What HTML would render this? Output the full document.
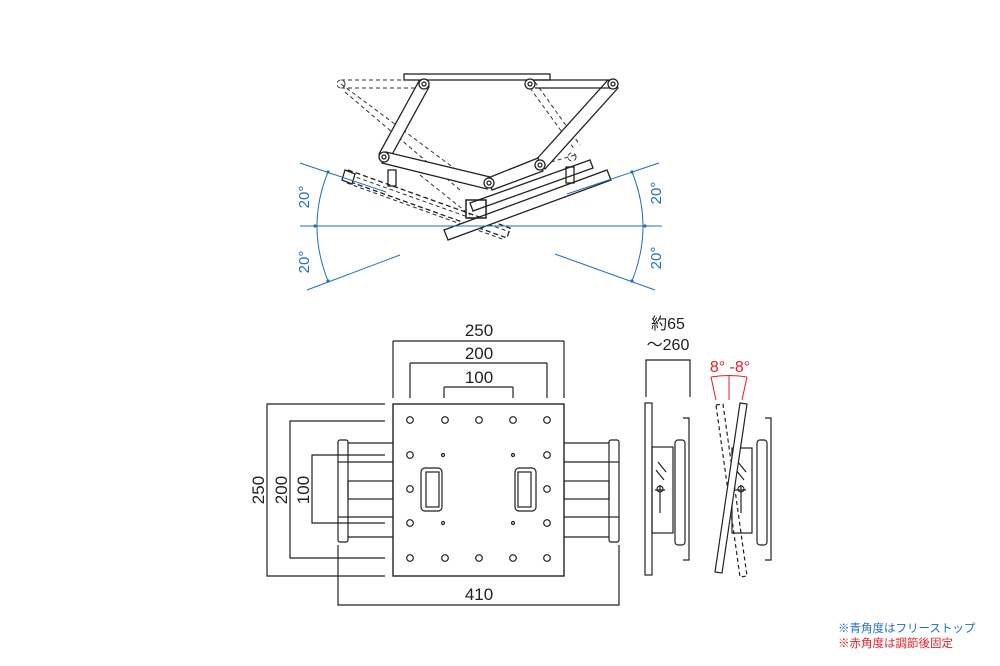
<!DOCTYPE html>
<html><head><meta charset="utf-8"><style>
html,body{margin:0;padding:0;background:#fff;}
svg{display:block;}
text{font-family:"Liberation Sans","Noto Sans CJK JP",sans-serif;}
</style></head><body>
<svg width="1000" height="666" viewBox="0 0 1000 666" xmlns="http://www.w3.org/2000/svg">
<g fill="none" stroke="#222" stroke-width="1.3">
<!-- top view -->
<rect x="404" y="74" width="146" height="6" fill="#fff"/>
<g stroke-dasharray="4,3" stroke="#333" stroke-width="1">
<line x1="341" y1="80" x2="404" y2="80"/><line x1="341" y1="88" x2="420" y2="88"/>
<line x1="341" y1="84" x2="470" y2="180"/><line x1="345" y1="92" x2="460" y2="190"/>
<line x1="530" y1="88" x2="575" y2="150"/><line x1="535" y1="82" x2="580" y2="145"/>
<line x1="575" y1="155" x2="490" y2="180"/>
<line x1="350" y1="175" x2="510" y2="232"/><line x1="347" y1="183" x2="505" y2="240"/>
<line x1="420" y1="175" x2="470" y2="215"/>
<circle cx="341" cy="84" r="4"/><circle cx="572" cy="157" r="4"/>
</g>
<polygon points="419,81 429,87 389,160 379,154" fill="#fff"/>
<polygon points="608,80 618,88 545,169 535,161" fill="#fff"/>
<line x1="535" y1="80" x2="613" y2="80"/><line x1="535" y1="88" x2="613" y2="88"/>
<polygon points="386,152 490,177 487,189 382,163" fill="#fff"/>
<polygon points="538,158 543,171 492,190 488,178" fill="#fff"/>
<polygon points="348,170 510,228 507,238 345,180" fill="none" stroke-dasharray="5,3"/>
<polygon points="345,170 355,174 352,184 342,180" fill="#fff"/>
<polygon points="444,230 607,170 611,180 448,240" fill="#fff"/>
<polygon points="470,203 590,160 593,168 473,211" fill="#fff"/>
<circle cx="424" cy="84" r="5" fill="#fff"/><circle cx="424" cy="84" r="2"/>
<circle cx="530" cy="84" r="5" fill="#fff"/><circle cx="530" cy="84" r="2"/>
<circle cx="613" cy="84" r="5" fill="#fff"/><circle cx="613" cy="84" r="2"/>
<circle cx="384" cy="157" r="5" fill="#fff"/><circle cx="384" cy="157" r="2"/>
<circle cx="540" cy="165" r="5" fill="#fff"/><circle cx="540" cy="165" r="2"/>
<circle cx="489" cy="183" r="5" fill="#fff"/><circle cx="489" cy="183" r="2"/>
<rect x="466" y="200" width="20" height="18" stroke-width="1.5"/>
<rect x="388" y="170" width="8" height="16"/><rect x="566" y="167" width="8" height="16"/>
</g>
<g fill="none" stroke="#1f6fc0" stroke-width="1">
<line x1="300" y1="226" x2="662" y2="226"/>
<line x1="300" y1="163" x2="386" y2="192"/><line x1="307" y1="290" x2="400" y2="255"/>
<line x1="659" y1="163" x2="567" y2="194"/><line x1="555" y1="254" x2="655" y2="290"/>
<path d="M328,172 Q306,226 328,281"/>
<path d="M632,172 Q654,226 632,281"/>
</g>
<g fill="#1f6fc0"><circle cx="328" cy="172" r="1.6"/><circle cx="328" cy="281" r="1.6"/><circle cx="315" cy="226" r="1.6"/><circle cx="632" cy="172" r="1.6"/><circle cx="632" cy="281" r="1.6"/><circle cx="645" cy="226" r="1.6"/></g>
<g fill="#1f6fc0" font-size="15">
<text transform="translate(309,197) rotate(-90)" text-anchor="middle">20°</text>
<text transform="translate(309,262) rotate(-90)" text-anchor="middle">20°</text>
<text transform="translate(661,193) rotate(-90)" text-anchor="middle">20°</text>
<text transform="translate(661,258) rotate(-90)" text-anchor="middle">20°</text>
</g>
<!-- front view -->
<g fill="none" stroke="#222" stroke-width="1.2">
<line x1="393" y1="341" x2="564" y2="341"/><line x1="393" y1="341" x2="393" y2="398"/><line x1="564" y1="341" x2="564" y2="398"/>
<line x1="410" y1="363" x2="547" y2="363"/><line x1="410" y1="363" x2="410" y2="398"/><line x1="547" y1="363" x2="547" y2="398"/>
<line x1="444" y1="387" x2="513" y2="387"/><line x1="444" y1="387" x2="444" y2="398"/><line x1="513" y1="387" x2="513" y2="398"/>
<polyline points="385,404 267,404 267,576 385,576"/>
<polyline points="385,421 290,421 290,558 385,558"/>
<polyline points="385,455 312,455 312,523 385,523"/>
<polyline points="338,545 338,605 619,605 619,545"/>
<line x1="348" y1="443" x2="393" y2="443"/><line x1="348" y1="462" x2="393" y2="462"/>
<rect x="348" y="481" width="45" height="18"/>
<line x1="348" y1="517" x2="393" y2="517"/><line x1="348" y1="537" x2="393" y2="537"/>
<line x1="564" y1="443" x2="609" y2="443"/><line x1="564" y1="462" x2="609" y2="462"/>
<rect x="564" y="481" width="45" height="18"/>
<line x1="564" y1="517" x2="609" y2="517"/><line x1="564" y1="537" x2="609" y2="537"/>
<rect x="338" y="440" width="10" height="102" rx="2"/><line x1="338" y1="462" x2="348" y2="462"/><line x1="338" y1="517" x2="348" y2="517"/>
<rect x="609" y="440" width="10" height="102" rx="2"/><line x1="609" y1="462" x2="619" y2="462"/><line x1="609" y1="517" x2="619" y2="517"/>
<rect x="393" y="404" width="171" height="172" fill="#fff" stroke-width="1.4"/>
<rect x="421" y="468" width="21" height="43" rx="4"/><rect x="426" y="472" width="13" height="35"/>
<rect x="515" y="468" width="21" height="43" rx="4"/><rect x="518" y="472" width="13" height="35"/>
<g>
<circle cx="410" cy="420" r="3.3"/><circle cx="445" cy="420" r="3.3"/><circle cx="479" cy="420" r="3.3"/><circle cx="513" cy="420" r="3.3"/><circle cx="547" cy="420" r="3.3"/>
<circle cx="410" cy="455" r="3.3"/><circle cx="547" cy="455" r="3.3"/>
<circle cx="410" cy="489" r="3.3"/><circle cx="547" cy="489" r="3.3"/>
<circle cx="410" cy="523" r="3.3"/><circle cx="547" cy="523" r="3.3"/>
<circle cx="410" cy="558" r="3.3"/><circle cx="445" cy="558" r="3.3"/><circle cx="479" cy="558" r="3.3"/><circle cx="513" cy="558" r="3.3"/><circle cx="547" cy="558" r="3.3"/>
<circle cx="443" cy="455" r="1.5"/><circle cx="513" cy="455" r="1.5"/><circle cx="443" cy="523" r="1.5"/><circle cx="513" cy="523" r="1.5"/>
</g>
<!-- side views -->
<polyline points="646,397 646,360 690,360 690,397"/>
<rect x="645" y="403" width="7" height="172"/>
<rect x="652" y="447" width="21" height="86"/>
<rect x="675" y="440" width="10" height="105" rx="3"/>
<polyline points="683,418 689,418 689,560 683,560"/>
<path d="M658,462 l8,10 M656,470 l8,10 M660,485 l0,28 M655,490 h10"/>
<circle cx="660" cy="489" r="3"/>
<rect x="732" y="448" width="20" height="85"/>
<rect x="757" y="440" width="10" height="105" rx="3"/>
<polyline points="765,418 771,418 771,560 765,560"/>
<circle cx="741" cy="489" r="3"/><path d="M741,485 l0,28 M736,490 h10 M738,462 l8,10 M736,470 l8,10"/>
<polygon points="716,405 723,404 747,576 740,577" fill="none" stroke-dasharray="4,3"/>
<polygon points="740,403 747,404 722,573 715,572" fill="#fff"/>
</g>
<g fill="none" stroke="#e0202a" stroke-width="1">
<path d="M711,377 Q729,374 747,377"/>
<line x1="711" y1="377" x2="716" y2="400"/><line x1="729" y1="376" x2="729" y2="400"/><line x1="747" y1="377" x2="742" y2="400"/>
</g>
<g fill="#222" font-size="17" text-anchor="middle">
<text x="479" y="336">250</text><text x="479" y="359">200</text><text x="479" y="383">100</text>
<text x="479" y="600">410</text>
<text transform="translate(264,490) rotate(-90)">250</text>
<text transform="translate(287,490) rotate(-90)">200</text>
<text transform="translate(309,490) rotate(-90)">100</text>
<text x="668" y="329" font-size="16">約65</text>
<text x="668" y="350" font-size="16">～260</text>
</g>
<text x="730" y="372" fill="#e0202a" font-size="16" text-anchor="middle">8° -8°</text>
<text x="838" y="632" fill="#1f6fc0" font-size="11.5">※青角度はフリーストップ</text>
<text x="838" y="647" fill="#e0202a" font-size="11.5">※赤角度は調節後固定</text>
</svg>
</body></html>
